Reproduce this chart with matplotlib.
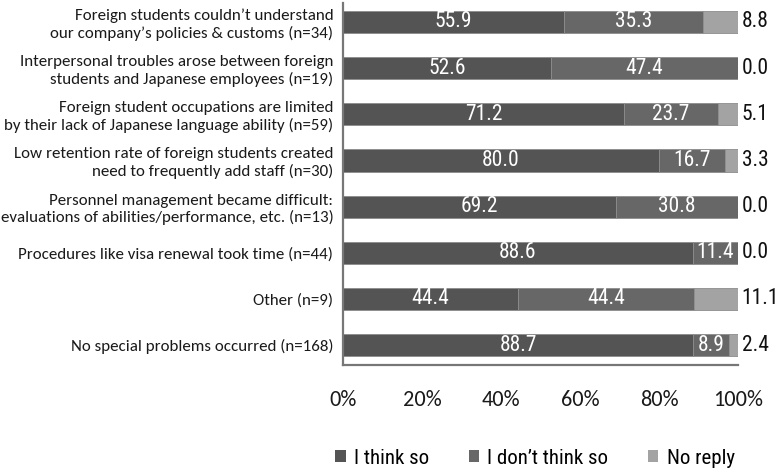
import matplotlib
matplotlib.use("Agg")
import matplotlib.pyplot as plt
import numpy as np
from matplotlib.patches import Patch
from matplotlib import font_manager

categories = [
    "Foreign students couldn\u2019t understand\nour company\u2019s policies & customs (n=34)",
    "Interpersonal troubles arose between foreign\nstudents and Japanese employees (n=19)",
    "Foreign student occupations are limited\nby their lack of Japanese language ability (n=59)",
    "Low retention rate of foreign students created\nneed to frequently add staff (n=30)",
    "Personnel management became difficult:\nevaluations of abilities/performance, etc. (n=13)",
    "Procedures like visa renewal took time (n=44)",
    "Other (n=9)",
    "No special problems occurred (n=168)",
]
think_so = [55.9, 52.6, 71.2, 80.0, 69.2, 88.6, 44.4, 88.7]
dont_think = [35.3, 47.4, 23.7, 16.7, 30.8, 11.4, 44.4, 8.9]
no_reply = [8.8, 0.0, 5.1, 3.3, 0.0, 0.0, 11.1, 2.4]
series_names = ["I think so", "I don\u2019t think so", "No reply"]
x_ticks = [0, 20, 40, 60, 80, 100]
x_tick_labels = ["0%", "20%", "40%", "60%", "80%", "100%"]

colors = ["#545454", "#676767", "#a3a3a3"]

installed = {f.name for f in font_manager.fontManager.ttflist}

# label font: a Calibri-like face if there is one, otherwise Lato slightly smaller
if "Carlito" in installed:
    label_font, label_size, tick_size = ["Carlito", "DejaVu Sans"], 12.2, 16
else:
    label_font, label_size, tick_size = ["Lato", "DejaVu Sans"], 11.0, 14

# number font: a narrow sans when available
num_font, num_size, leg_size = ["Liberation Sans", "DejaVu Sans"], 14, 13.5
for cand in ["Liberation Sans Narrow", "Arial Narrow", "Roboto Condensed"]:
    if cand in installed:
        num_font, num_size, leg_size = [cand, "DejaVu Sans"], 15.5, 15
        break

fig = plt.figure(figsize=(7.8, 4.75), dpi=100)
ax = fig.add_axes([343 / 780, 1 - 365 / 475, 395 / 780, 362 / 475])

y = np.arange(len(categories))
left = np.zeros(len(categories))
for vals, col in zip([think_so, dont_think, no_reply], colors):
    vals = np.array(vals)
    ax.barh(y, vals, left=left, height=0.48, color=col,
            edgecolor="#8c8c8c", linewidth=0.6)
    left += vals

# values inside the first two segments, no-reply share to the right of the bar
for i in range(len(categories)):
    ax.text(think_so[i] / 2, y[i], f"{think_so[i]:.1f}", ha="center", va="center",
            color="white", fontsize=num_size, family=num_font)
    ax.text(think_so[i] + dont_think[i] / 2, y[i], f"{dont_think[i]:.1f}",
            ha="center", va="center", color="white", fontsize=num_size, family=num_font)
    ax.text(100.9, y[i], f"{no_reply[i]:.1f}", ha="left", va="center",
            color="#111111", fontsize=num_size, family=num_font, clip_on=False)

ax.set_xlim(0, 100)
ax.set_ylim(7.43, -0.41)
ax.set_yticks(y)
ax.set_yticklabels(categories, family=label_font, fontsize=label_size, color="#1a1a1a")
ax.set_xticks(x_ticks)
ax.set_xticklabels(x_tick_labels, family=label_font, fontsize=tick_size, color="#1a1a1a")
ax.tick_params(axis="y", length=0, pad=7)
ax.tick_params(axis="x", length=0, pad=18)

for s in ["top", "right"]:
    ax.spines[s].set_visible(False)
for s in ["left", "bottom"]:
    ax.spines[s].set_color("#777777")
    ax.spines[s].set_linewidth(1.6)

handles = [Patch(facecolor=c, edgecolor="none") for c in colors]
fig.legend(handles, series_names, loc="center", bbox_to_anchor=(535 / 780, 1 - 458 / 475),
           ncol=3, frameon=False, prop={"family": num_font, "size": leg_size},
           handlelength=0.5, handleheight=0.5, handletextpad=0.4, columnspacing=1.9)

fig.savefig("out.png", dpi=100)
